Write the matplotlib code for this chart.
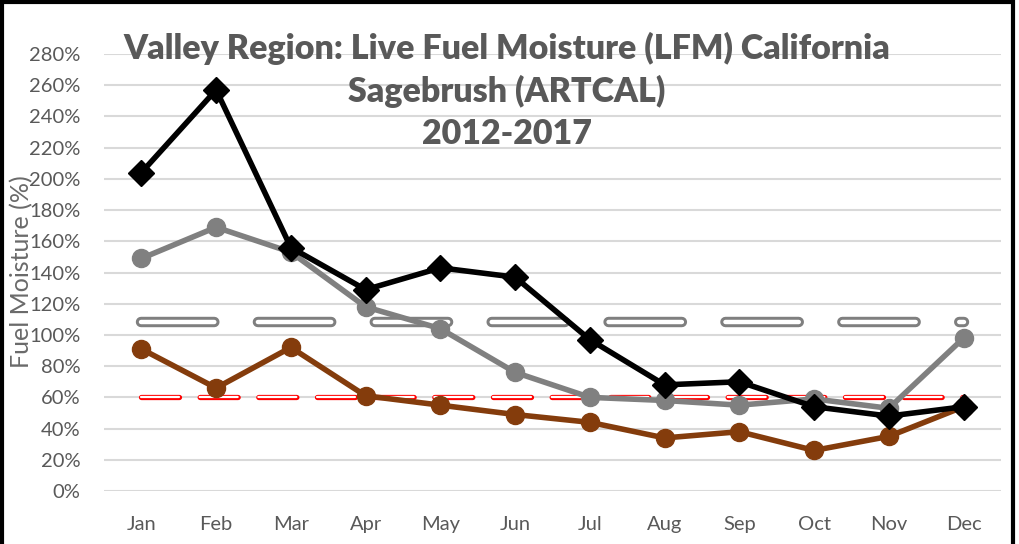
import matplotlib
matplotlib.use("Agg")
import matplotlib.pyplot as plt
import matplotlib.patheffects as pe
from matplotlib.patches import Rectangle

months = ["Jan", "Feb", "Mar", "Apr", "May", "Jun", "Jul", "Aug", "Sep", "Oct", "Nov", "Dec"]
lfm_max = [204, 257, 156, 129, 143, 137, 97, 68, 70, 54, 48, 54]      # black diamonds
lfm_avg = [149, 169, 153, 118, 104, 76, 60, 58, 55, 59, 53, 98]       # gray circles
lfm_min = [91, 66, 92, 61, 55, 49, 44, 34, 38, 26, 35, 54]            # brown circles
avg_level = [108] * 12
critical = [60] * 12

plt.rcParams["font.family"] = ["Lato", "DejaVu Sans"]

fig = plt.figure(figsize=(10.19, 5.44), dpi=100)
ax = fig.add_axes([104 / 1019, 1 - 491 / 544, (1001 - 104) / 1019, (491 - 54) / 544])

x = list(range(len(months)))

# outlined dashed reference lines
gray_dash, = ax.plot(x, avg_level, color="white", lw=3.2, dashes=(16.5, 9.8),
                     dash_capstyle="round", zorder=2)
gray_dash.set_path_effects([pe.Stroke(linewidth=7.5, foreground="#7f7f7f"), pe.Normal()])
red_dash, = ax.plot(x, critical, color="white", lw=1.6, dashes=(17.1, 9.3),
                    dash_capstyle="round", zorder=2)
red_dash.set_path_effects([pe.Stroke(linewidth=3.8, foreground="#ff0000"), pe.Normal()])

ax.plot(x, lfm_min, color="#843c0c", lw=4, marker="o", ms=13, zorder=3)
ax.plot(x, lfm_avg, color="#808080", lw=4, marker="o", ms=13, zorder=4)
ax.plot(x, lfm_max, color="black", lw=4, marker="D", ms=13, zorder=5)

ax.set_xlim(-0.5, 11.5)
ax.set_ylim(0, 280)
ax.set_yticks(range(0, 281, 20))
ax.set_yticklabels([f"{v}%" for v in range(0, 281, 20)])
ax.set_xticks(x)
ax.set_xticklabels(months)
ax.grid(axis="y", color="#d9d9d9", lw=1.5, zorder=0)
ax.set_axisbelow(True)
for s in ax.spines.values():
    s.set_visible(False)
ax.tick_params(length=0, labelsize=14.5, colors="#595959")
ax.tick_params(axis="y", pad=17)
ax.tick_params(axis="x", pad=18)

fig.text(22 / 1019, 1 - 272 / 544, "Fuel Moisture (%)", rotation=90, ha="center", va="center",
         fontsize=18, color="#6a6a6a")

title = "Valley Region: Live Fuel Moisture (LFM) California\nSagebrush (ARTCAL)\n2012-2017"
fig.text(507 / 1019, 1 - 91 / 544, title, ha="center", va="center", fontsize=24.5,
         fontweight="heavy", color="#595959", linespacing=1.38)

fig.patches.append(Rectangle((2 / 1019, -0.05), 1011 / 1019, 1.05 - 2 / 544, transform=fig.transFigure,
                             fill=False, ec="black", lw=3))

fig.savefig("out.png", dpi=100)
